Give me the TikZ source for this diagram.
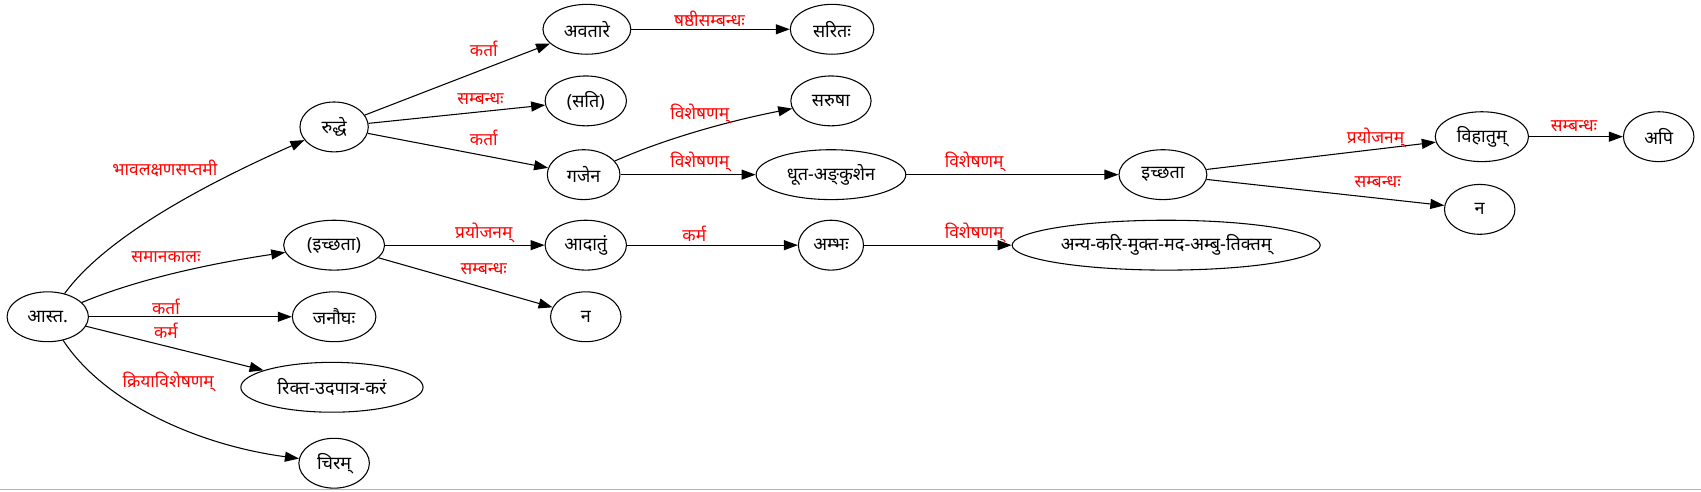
\documentclass[tikz,border=0pt]{standalone}
\usepackage{fontspec}
\setmainfont{Noto Sans}[Script=Devanagari]
\usetikzlibrary{shapes.geometric,arrows.meta}
\begin{document}
\begin{tikzpicture}[x=0.8136pt,y=-0.8136pt,
  nd/.style={ellipse,draw,line width=0.8pt,minimum height=37.4pt,inner sep=0pt,font=\fontsize{13.5}{15}\selectfont},
  nw/.style={minimum width=#1*0.8136pt},
  e/.style={line width=0.8pt,-{Triangle[length=10.5pt,width=7.5pt]}},
  lbl/.style={text=red,font=\fontsize{13}{15}\selectfont,inner sep=0pt}]
\useasboundingbox (0,0) rectangle (1568,453);
\draw[gray!60,line width=0.8pt] (0,451) -- (1568,451);
% nodes
\node[nd,nw=75] (ast) at (44,292) {आस्त.};
\node[nd,nw=63] (rud) at (308,117) {रुद्धे};
\node[nd,nw=81] (ava) at (541,27) {अवतारे};
\node[nd,nw=77] (sar) at (767,27) {सरितः};
\node[nd,nw=75] (sati) at (540,93) {(सति)};
\node[nd,nw=74] (sru) at (766,93) {सरुषा};
\node[nd,nw=67] (gaj) at (538,161) {गजेन};
\node[nd,nw=138] (dhu) at (766,161) {धूत-अङ्‌कुशेन};
\node[nd,nw=81] (ich) at (1072,161) {इच्छता};
\node[nd,nw=86] (vih) at (1366,126) {विहातुम्};
\node[nd,nw=65] (api) at (1529,126) {अपि};
\node[nd,nw=65] (naB) at (1364,193) {न};
\node[nd,nw=93] (ichp) at (308,226) {(इच्छता)};
\node[nd,nw=75] (ada) at (540,226) {आदातुं};
\node[nd,nw=60] (amb) at (766,226) {अम्भः};
\node[nd,nw=284] (any) at (1075,226) {अन्य-करि-मुक्त-मद-अम्बु-तिक्तम्};
\node[nd,nw=65] (naA) at (540,292) {न};
\node[nd,nw=77] (jan) at (308,292) {जनौघः};
\node[nd,nw=168] (rik) at (306,357) {रिक्त-उदपात्र-करं};
\node[nd,nw=65] (cir) at (308,427) {चिरम्};
% edges
\draw[e] (ast) .. controls (100,215) and (200,165) .. (rud);
\draw[e] (ast) .. controls (130,256) and (200,242) .. (ichp);
\draw[e] (ast) -- (jan);
\draw[e] (ast) -- (rik);
\draw[e] (ast) .. controls (95,370) and (180,410) .. (cir);
\draw[e] (rud) -- (ava);
\draw[e] (rud) -- (sati);
\draw[e] (rud) -- (gaj);
\draw[e] (ava) -- (sar);
\draw[e] (gaj) .. controls (620,125) and (680,110) .. (sru);
\draw[e] (gaj) -- (dhu);
\draw[e] (dhu) -- (ich);
\draw[e] (ich) -- (vih);
\draw[e] (ich) -- (naB);
\draw[e] (vih) -- (api);
\draw[e] (ichp) -- (ada);
\draw[e] (ichp) -- (naA);
\draw[e] (ada) -- (amb);
\draw[e] (amb) -- (any);
% labels
\node[lbl] (l1) at (152,155) {भावलक्षणसप्तमी};
\node[lbl] (l2) at (153,237) {समानकालः};
\node[lbl] (l3) at (153,283) {कर्ता};
\node[lbl] (l4) at (153,305) {कर्म};
\node[lbl] (l5) at (155,352) {क्रियाविशेषणम्};
\node[lbl] (l6) at (446,45) {कर्ता};
\node[lbl] (l7) at (443,91) {सम्बन्धः};
\node[lbl] (l8) at (446,127) {कर्ता};
\node[lbl] (l9) at (654,17) {षष्ठीसम्बन्धः};
\node[lbl] (l10) at (645,105) {विशेषणम्};
\node[lbl] (l11) at (645,149) {विशेषणम्};
\node[lbl] (l12) at (898,149) {विशेषणम्};
\node[lbl] (l13) at (1268,127) {प्रयोजनम्};
\node[lbl] (l14) at (1270,168) {सम्बन्धः};
\node[lbl] (l15) at (1451,116) {सम्बन्धः};
\node[lbl] (l16) at (446,215) {प्रयोजनम्};
\node[lbl] (l17) at (446,248) {सम्बन्धः};
\node[lbl] (l18) at (640,215) {कर्म};
\node[lbl] (l19) at (898,215) {विशेषणम्};
\end{tikzpicture}
\end{document}
